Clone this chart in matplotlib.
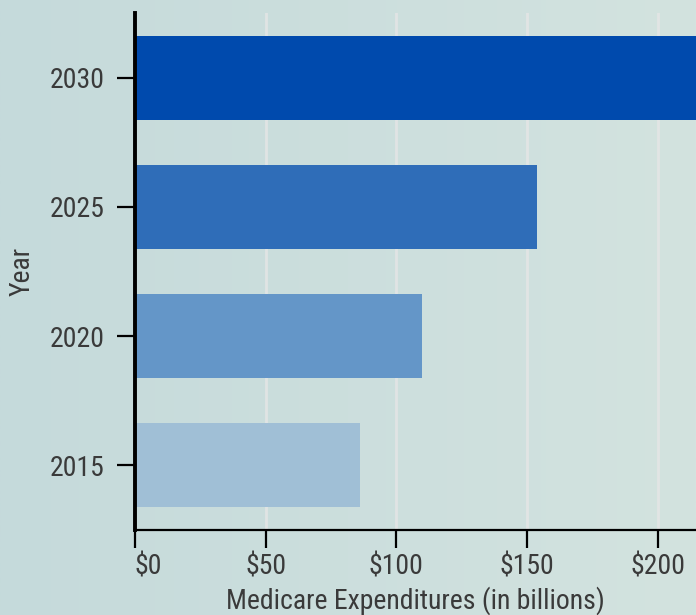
import matplotlib
matplotlib.use("Agg")
import matplotlib.pyplot as plt
import numpy as np
from matplotlib.colors import LinearSegmentedColormap

plt.rcParams['font.family'] = ['Roboto Condensed', 'Roboto', 'DejaVu Sans']

years = ["2015", "2020", "2025", "2030"]
values = [86, 110, 154, 240]
colors = ["#a0bfd6", "#6496c8", "#2f6db8", "#004aad"]
xticks = [0, 50, 100, 150, 200]
xticklabels = ["$0", "$50", "$100", "$150", "$200"]

W, H = 696, 615
fig = plt.figure(figsize=(W / 100, H / 100), dpi=100)

# background gradient
bg = fig.add_axes([0, 0, 1, 1], zorder=-10)
cmap = LinearSegmentedColormap.from_list("bg", ["#c5dadb", "#d3e3df"])
bg.imshow(np.linspace(0, 1, 256)[None, :], aspect="auto", cmap=cmap, extent=[0, 1, 0, 1])
bg.axis("off")

left = 135 / W
bottom = 1 - 530 / H
top = 1 - 13 / H
ax = fig.add_axes([left, bottom, 1 - left, top - bottom])
ax.set_facecolor("none")

ypos = np.arange(len(years))
ax.barh(ypos, values, height=0.65, color=colors, zorder=2)
ax.set_ylim(-0.5, 3.5)
ax.set_xlim(0, (W - 135) / 2.6125)

ax.set_yticks(ypos)
ax.set_yticklabels(years)
ax.set_xticks(xticks)
ax.set_xticklabels(xticklabels)
labs = ax.get_xticklabels()
labs[0].set_horizontalalignment("left")

ax.xaxis.grid(True, color="#e6e6e6", linewidth=2, alpha=0.8, zorder=0)
ax.set_axisbelow(True)

for s in ["top", "right"]:
    ax.spines[s].set_visible(False)
ax.spines["left"].set_linewidth(2.8)
ax.spines["bottom"].set_linewidth(1.6)

txtc = "#3a3a3a"
ax.tick_params(axis="y", length=13, width=1.6, pad=9, labelsize=20, labelcolor=txtc, color="black")
ax.tick_params(axis="x", length=13, width=1.6, pad=4, labelsize=20, labelcolor=txtc, color="black")

ax.set_xlabel("Medicare Expenditures (in billions)", fontsize=20, color=txtc, labelpad=4)
ax.set_ylabel("Year", fontsize=20, color=txtc, labelpad=10)

fig.savefig("out.png", dpi=100)
